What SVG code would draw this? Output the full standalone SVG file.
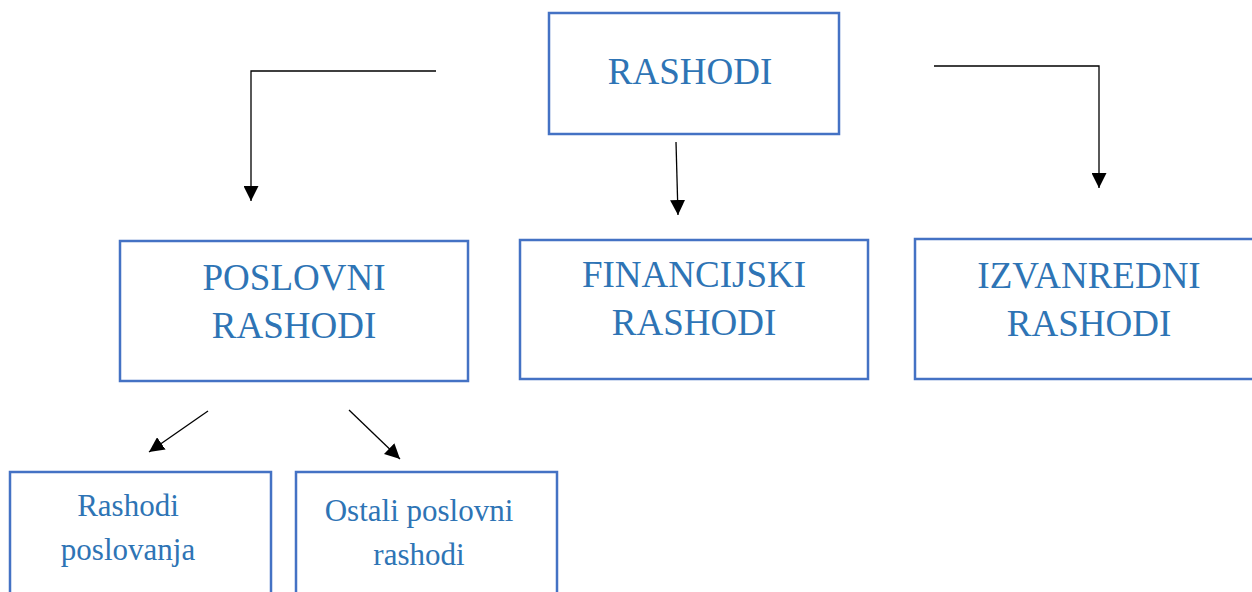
<svg xmlns="http://www.w3.org/2000/svg" width="1252" height="592" viewBox="0 0 1252 592">
<style>
.box{fill:#fff;stroke:#4472C4;stroke-width:2.5}
.t{font-family:"Liberation Serif",serif;fill:#2E74B5;text-anchor:middle}
.big{font-size:37px}
.sm{font-size:31px}
.c{fill:none;stroke:#000;stroke-width:1.3}
</style>
<defs>
<marker id="ah" viewBox="0 0 10 10" refX="10" refY="5" markerWidth="15" markerHeight="15" markerUnits="userSpaceOnUse" orient="auto">
<path d="M0,0 L10,5 L0,10 z" fill="#000"/>
</marker>
</defs>
<rect width="1252" height="592" fill="#fff"/>
<g id="connectors">
<path class="c" d="M436,71 H251 V201" marker-end="url(#ah)"/>
<path class="c" d="M676,142 L678,215" marker-end="url(#ah)"/>
<path class="c" d="M934,66 H1099 V188" marker-end="url(#ah)"/>
<path class="c" d="M208,411 L149,452" marker-end="url(#ah)"/>
<path class="c" d="M349,410 L400,459" marker-end="url(#ah)"/>
</g>
<g id="rashodi">
<rect class="box" x="549" y="13" width="290" height="121"/>
<text class="t big" x="690" y="84">RASHODI</text>
</g>
<g id="poslovni">
<rect class="box" x="120" y="241" width="348" height="140"/>
<text class="t big" x="294" y="290">POSLOVNI</text>
<text class="t big" x="294" y="338">RASHODI</text>
</g>
<g id="financijski">
<rect class="box" x="520" y="240" width="348" height="139"/>
<text class="t big" x="694" y="287">FINANCIJSKI</text>
<text class="t big" x="694" y="335">RASHODI</text>
</g>
<g id="izvanredni">
<rect class="box" x="915" y="239" width="345" height="140"/>
<text class="t big" x="1089" y="288">IZVANREDNI</text>
<text class="t big" x="1089" y="336">RASHODI</text>
</g>
<g id="rashodi-poslovanja">
<rect class="box" x="10" y="472" width="261" height="130"/>
<text class="t sm" x="128" y="516">Rashodi</text>
<text class="t sm" x="128" y="560">poslovanja</text>
</g>
<g id="ostali">
<rect class="box" x="296" y="472" width="261" height="130"/>
<text class="t sm" x="419" y="521">Ostali poslovni</text>
<text class="t sm" x="419" y="565">rashodi</text>
</g>
</svg>
